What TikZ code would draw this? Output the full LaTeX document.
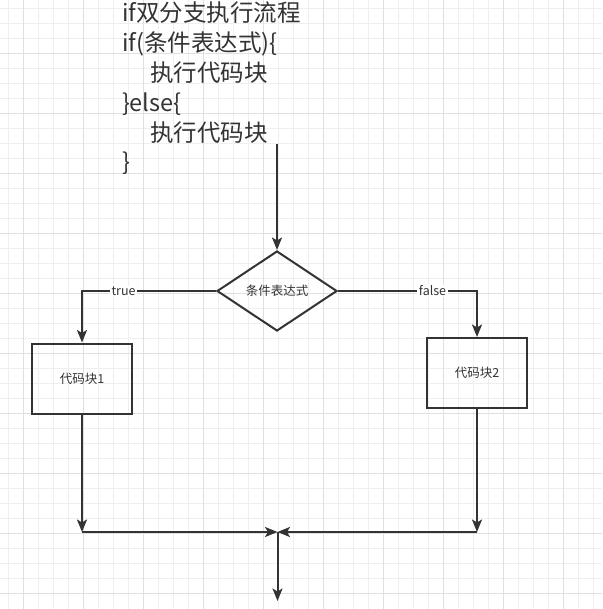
\documentclass[tikz,border=0pt]{standalone}
\usepackage{fontspec}
\setmainfont{Noto Sans CJK SC}
\usetikzlibrary{arrows.meta,shapes.geometric}
\definecolor{ink}{HTML}{333333}
\definecolor{gridminor}{HTML}{EFEFEF}
\definecolor{gridmajor}{HTML}{E0E0E0}

\begin{document}
\begin{tikzpicture}[x=1pt,y=-1pt,
  line width=2pt, draw=ink,
  arr/.style={-{Stealth[length=12.5pt,width=10pt,inset=3pt]}},
  codeline/.style={anchor=base west, inner sep=0pt, text=ink, font=\fontsize{23.5}{28}\selectfont},
  blk/.style={draw, rectangle, minimum width=100pt, minimum height=70pt, inner sep=0pt, text=ink, font=\fontsize{12.5}{14}\selectfont},
  cond/.style={draw, diamond, minimum width=120pt, minimum height=80pt, inner sep=0pt, text=ink, font=\fontsize{12.5}{14}\selectfont},
  lbl/.style={fill=white, inner xsep=1.5pt, inner ysep=1pt, text=ink, font=\fontsize{12.5}{14}\selectfont}]
\useasboundingbox (0,0) rectangle (602,609);
\fill[white] (0,0) rectangle (602,609);
% background grid
\foreach \k in {0,...,39} {
  \draw[gridminor, line width=1pt] (8.3+15*\k,0) -- (8.3+15*\k,609);
  \draw[gridminor, line width=1pt] (0,8.3+15*\k) -- (602,8.3+15*\k);
}
\foreach \k in {0,...,9} {
  \draw[gridmajor, line width=1pt] (23.3+60*\k,0) -- (23.3+60*\k,609);
  \draw[gridmajor, line width=1pt] (0,53.3+60*\k) -- (602,53.3+60*\k);
}
% code text
\node[codeline] (l1) at (121,22) {if双分支执行流程};
\node[codeline] (l2) at (121,52) {if(条件表达式)\{};
\node[codeline] (l3) at (149,82) {执行代码块};
\node[codeline] (l4) at (121,111.5) {\}else\{};
\node[codeline] (l5) at (149,141.5) {执行代码块};
\node[codeline] (l6) at (121,171) {\}};
% flow chart
\coordinate (src) at (277,144);
\node[cond] (test) at (277,291) {条件表达式};
\node[blk] (blk1) at (82,378.5) {代码块1};
\node[blk] (blk2) at (477,373) {代码块2};
\coordinate (merge) at (277.5,532);
\coordinate (out) at (277.5,601);
\coordinate (c1) at (blk1.south |- merge);
\coordinate (c2) at (blk2.south |- merge);

\draw[arr] (src) -- (test.north);
\draw[arr] (test.west) -| node[lbl, pos=0.345] (yes) {true} (blk1.north);
\draw[arr] (test.east) -| node[lbl, pos=0.34] (no) {false} (blk2.north);
\draw[arr] (blk1.south) -- (c1);
\draw[arr] (blk2.south) -- (c2);
\draw[arr] (c1) -- (merge);
\draw[arr] (c2) -- (merge);
\draw[arr] (merge) -- (out);
\end{tikzpicture}
\end{document}
